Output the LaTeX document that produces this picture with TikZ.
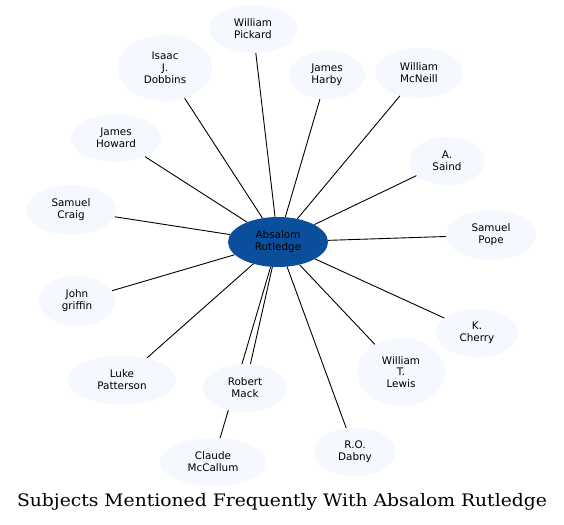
\documentclass[tikz,border=0pt]{standalone}
\usepackage{fontspec}
\newfontfamily\nodefont{DejaVu Sans}
\newfontfamily\titlefont{DejaVu Serif}
\usetikzlibrary{shapes.geometric,backgrounds}
\definecolor{leaf}{HTML}{F5F8FE}
\definecolor{hub}{HTML}{0A4F9C}
\tikzset{
  person/.style={ellipse, fill=leaf, inner sep=0pt, align=center,
    font=\nodefont\fontsize{10.4}{11.8}\selectfont, text=black},
  center/.style={ellipse, fill=hub, inner sep=0pt, align=center,
    font=\nodefont\fontsize{10.4}{11.8}\selectfont, text=black},
  link/.style={draw=black, line width=0.9pt}
}
\begin{document}
\begin{tikzpicture}[x=1pt,y=-1pt]
\useasboundingbox (0,0) rectangle (564,524);
\node[center, minimum width=100pt, minimum height=50pt] (ar) at (278,242) {Absalom\\Rutledge};
\node[person, minimum width=88pt, minimum height=48pt] (wp) at (253,29) {William\\Pickard};
\node[person, minimum width=94pt, minimum height=66pt] (ijd) at (165,68) {Isaac\\J.\\Dobbins};
\node[person, minimum width=76pt, minimum height=48pt] (jh) at (327,75) {James\\Harby};
\node[person, minimum width=88pt, minimum height=50pt] (wm) at (419,73) {William\\McNeill};
\node[person, minimum width=90pt, minimum height=48pt] (jhow) at (116,138) {James\\Howard};
\node[person, minimum width=76pt, minimum height=48pt] (as) at (447,161) {A.\\Saind};
\node[person, minimum width=90pt, minimum height=50pt] (sc) at (71,210) {Samuel\\Craig};
\node[person, minimum width=90pt, minimum height=50pt] (sp) at (491,235) {Samuel\\Pope};
\node[person, minimum width=76pt, minimum height=50pt] (jg) at (77,301) {John\\griffin};
\node[person, minimum width=82pt, minimum height=48pt] (kc) at (477,333) {K.\\Cherry};
\node[person, minimum width=108pt, minimum height=49pt] (lp) at (122,380) {Luke\\Patterson};
\node[person, minimum width=84pt, minimum height=48pt] (rm) at (245,388) {Robert\\Mack};
\node[person, minimum width=88pt, minimum height=68pt] (wtl) at (401,372) {William\\T.\\Lewis};
\node[person, minimum width=81pt, minimum height=49pt] (rod) at (355,452) {R.O.\\Dabny};
\node[person, minimum width=106pt, minimum height=48pt] (cm) at (213,462) {Claude\\McCallum};
\begin{pgfonlayer}{background}
\foreach \t in {wp,ijd,jh,wm,jhow,as,sc,sp,jg,kc,lp,rm,wtl,rod,cm}
  \draw[link] (ar) -- (\t);
\end{pgfonlayer}
\node[font=\titlefont\fontsize{17.2}{20}\selectfont] (title) at (282,502) {\scalebox{1.09}[1]{Subjects Mentioned Frequently With Absalom Rutledge}};
\end{tikzpicture}
\end{document}
